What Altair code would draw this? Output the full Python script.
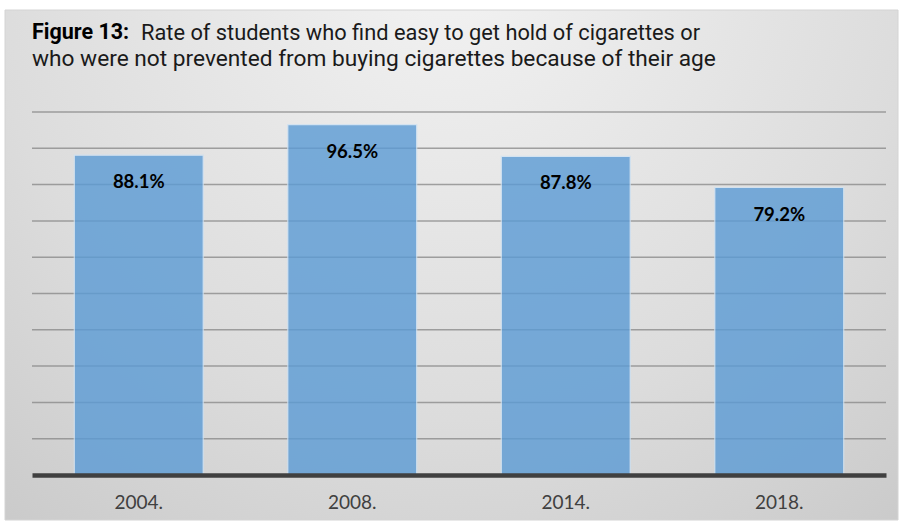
import altair as alt
import pandas as pd

years = ["2004.", "2008.", "2014.", "2018."]
rates = [88.1, 96.5, 87.8, 79.2]
labels = ["88.1%", "96.5%", "87.8%", "79.2%"]
grid_values = [10, 20, 30, 40, 50, 60, 70, 80, 90, 100]
title_bold = "Figure 13:"
title_line1 = "Rate of students who find easy to get hold of cigarettes or"
title_line2 = "who were not prevented from buying cigarettes because of their age"

df = pd.DataFrame({"year": years, "rate": rates, "label": labels})
gdf = pd.DataFrame({"g": grid_values})
one = pd.DataFrame({"k": [0]})

W, H = 854, 363
TFONT = "Roboto"

bg = alt.Chart(one).mark_rect(
    fill={
        "gradient": "radial",
        "x1": 0.5, "y1": 0.15, "r1": 0.0,
        "x2": 0.5, "y2": 0.15, "r2": 0.95,
        "stops": [
            {"offset": 0, "color": "#f3f3f3"},
            {"offset": 0.55, "color": "#dcdcdc"},
            {"offset": 1, "color": "#c2c2c2"},
        ],
    },
    stroke="#d4d4d4",
    strokeWidth=1,
).encode(
    x=alt.value(-27), x2=alt.value(866), y=alt.value(-102), y2=alt.value(408)
)

yscale = alt.Scale(domain=[0, 100], nice=False)

grid = alt.Chart(gdf).mark_rule(
    color="#858585", strokeWidth=1.5, opacity=0.75
).encode(
    y=alt.Y("g:Q", scale=yscale, axis=None),
    x=alt.value(0), x2=alt.value(W),
)

x_enc = alt.X(
    "year:N",
    sort=years,
    scale=alt.Scale(paddingInner=0.396, paddingOuter=0.198),
    axis=alt.Axis(
        title=None, labelAngle=0, labelFontSize=19, labelColor="#404040",
        labelFont="Lato", labelPadding=18, ticks=False,
        domainColor="#404040", domainWidth=4.5, grid=False, zindex=1,
    ),
)

bars = alt.Chart(df).mark_bar(
    color="#5B9BD5", opacity=0.8, stroke="#cfe2f3", strokeWidth=1.2
).encode(x=x_enc, y=alt.Y("rate:Q", scale=yscale, axis=None))

text = alt.Chart(df).mark_text(
    font="Lato", fontWeight="bold", fontSize=18.5, color="#000000",
    baseline="middle", dy=27,
).encode(x=alt.X("year:N", sort=years), y="rate:Q", text="label:N")

t_bold = alt.Chart(one).mark_text(
    text=title_bold, font=TFONT, fontWeight="bold",
    fontSize=21.5, align="left", baseline="middle", color="#000000",
).encode(x=alt.value(0), y=alt.value(-79))
t_l1 = alt.Chart(one).mark_text(
    text=title_line1, font=TFONT, fontSize=21.8,
    align="left", baseline="middle", color="#1a1a1a",
).encode(x=alt.value(109), y=alt.value(-79))
t_l2 = alt.Chart(one).mark_text(
    text=title_line2, font=TFONT, fontSize=22.7,
    align="left", baseline="middle", color="#1a1a1a",
).encode(x=alt.value(0), y=alt.value(-53))

chart = alt.layer(bg, grid, bars, text, t_bold, t_l1, t_l2).properties(
    width=W, height=H,
    autosize=alt.AutoSizeParams(type="none"),
    padding={"left": 32, "top": 112, "right": 18, "bottom": 50},
    background="#ffffff",
).configure_view(stroke=None)

chart.save("out.html", embed_options={"renderer": "svg", "actions": False})
